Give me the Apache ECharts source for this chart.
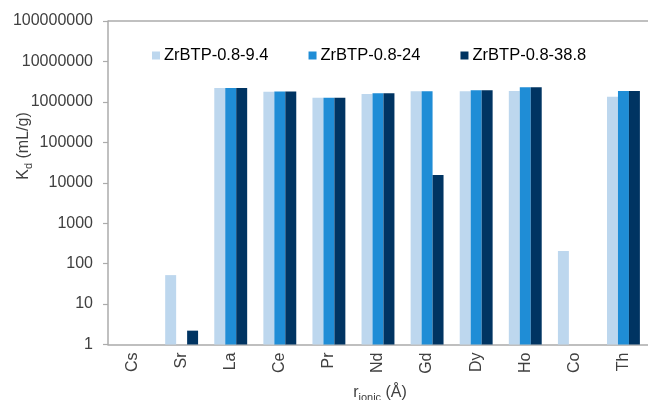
<!DOCTYPE html>
<html>
<head>
<meta charset="utf-8">
<script src="https://cdn.jsdelivr.net/npm/echarts@6/dist/echarts.min.js"></script>
<style>
  html, body { margin: 0; padding: 0; background: #fff; }
  #chart { width: 648px; height: 400px; }
</style>
</head>
<body>
<div id="chart"></div>
<script>
// Distribution coefficients (Kd, mL/g) per element for three ZrBTP sorbents
const categories = ['Cs', 'Sr', 'La', 'Ce', 'Pr', 'Nd', 'Gd', 'Dy', 'Ho', 'Co', 'Th'];
const seriesNames = ['ZrBTP-0.8-9.4', 'ZrBTP-0.8-24', 'ZrBTP-0.8-38.8'];
const kd94   = [null, 52,  2200000, 1790000, 1270000, 1560000, 1820000, 1820000, 1850000, 205,  1340000];
const kd24   = [null, 1,   2200000, 1800000, 1270000, 1630000, 1820000, 1930000, 2290000, null, 1850000];
const kd388  = [null, 2.2, 2200000, 1800000, 1270000, 1630000, 15500,   1930000, 2290000, null, 1850000];
const yMin = 1, yMax = 100000000;
const colors = ['#BDD7EE', '#1F8DD6', '#003462'];

const font = '"Liberation Sans", Arial, sans-serif';
const axisGray = '#ABABAB';
const textColor = '#404040';

const chart = echarts.init(document.getElementById('chart'), null, { renderer: 'canvas' });

const values = [kd94, kd24, kd388];
chart.setOption({
  animation: false,
  color: colors,
  grid: { left: 108, right: 0, top: 21, bottom: 55.5, outerBoundsMode: 'none' },
  legend: {
    data: seriesNames,
    left: 147, top: 42,
    icon: 'rect', itemWidth: 8, itemHeight: 8, itemGap: 40,
    textStyle: { fontSize: 16.5, color: '#000', fontFamily: font, padding: [0, 0, 0, -1] }
  },
  xAxis: {
    type: 'category',
    data: categories,
    axisLine: { lineStyle: { color: axisGray, width: 1.5 } },
    axisTick: { lineStyle: { color: axisGray } },
    axisLabel: { rotate: 90, fontSize: 16, color: textColor }
  },
  yAxis: {
    type: 'log',
    logBase: 10,
    min: yMin,
    max: yMax,
    axisLine: { show: true, lineStyle: { color: axisGray, width: 1.5 } },
    axisTick: { show: true, length: 5, lineStyle: { color: axisGray, width: 1.2 } },
    splitLine: { show: false },
    axisLabel: {
      margin: 15, fontSize: 16, color: textColor, fontFamily: font,
      formatter: v => String(Math.round(v))
    }
  },
  // axis titles with subscripts
  graphic: [{
    type: 'text',
    x: 24, y: 146,
    rotation: Math.PI / 2,
    style: {
      text: '{m|K}{s|d}{m| (mL/g)}',
      align: 'center', verticalAlign: 'middle',
      rich: {
        m: { fontSize: 16, fill: textColor, fontFamily: font },
        s: { fontSize: 11, fill: textColor, fontFamily: font, padding: [9, 0, 0, 0] }
      }
    }
  }, {
    type: 'text',
    x: 380, y: 393,
    style: {
      text: '{m|r}{s|ionic}{m| (Å)}',
      align: 'center', verticalAlign: 'middle',
      rich: {
        m: { fontSize: 16, fill: textColor, fontFamily: font },
        s: { fontSize: 11, fill: textColor, fontFamily: font, padding: [9, 0, 0, 0] }
      }
    }
  }],
  series: seriesNames.map((name, i) => ({
    name,
    type: 'bar',
    data: values[i],
    barGap: '0%',
    barCategoryGap: '33%',
    itemStyle: { color: colors[i] },
    // top frame line of the plot area at the axis maximum
    markLine: i === 0 ? {
      silent: true,
      symbol: 'none',
      label: { show: false },
      lineStyle: { color: axisGray, width: 1.5, type: 'solid' },
      data: [{ yAxis: yMax }]
    } : undefined
  }))
});
</script>
</body>
</html>
